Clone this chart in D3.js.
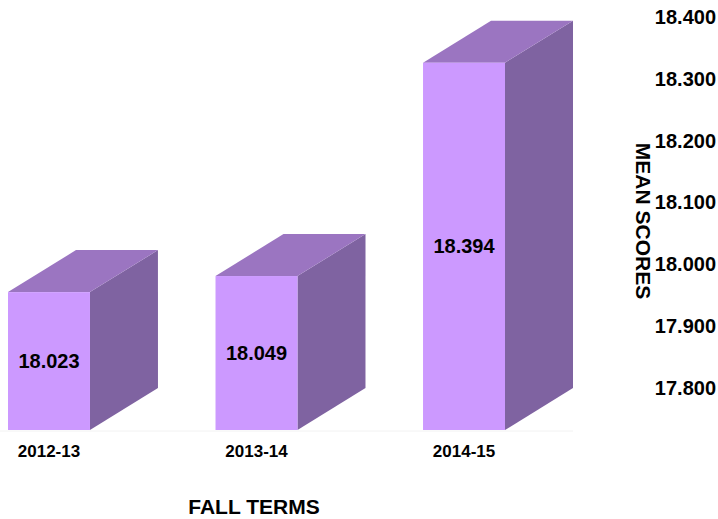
<!DOCTYPE html>
<html>
<head>
<meta charset="utf-8">
<script src="https://cdn.jsdelivr.net/npm/d3@7"></script>
<style>
  body { margin: 0; background: #fff; }
  svg { display: block; font-family: "Liberation Sans", Arial, sans-serif; font-weight: bold; }
</style>
</head>
<body>
<svg class="chart"></svg>
<script>
// chart values
var terms = ['2012-13', '2013-14', '2014-15'];
var scores = [18.023, 18.049, 18.394];
var yTicks = [17.8, 17.9, 18.0, 18.1, 18.2, 18.3, 18.4];

var width = 718, height = 519;
var depthX = 68, depthY = 42;   // 3d offset of the back plane

var chart = d3.select('.chart')
  .attr('width', width)
  .attr('height', height);

var x = d3.scaleBand().domain(terms).range([8, 505]).paddingInner(0.605).paddingOuter(0);
// y on the back plane (where the axis sits)
var y = d3.scaleLinear().domain([17.8, 18.4]).range([388, 17]);
var base = 17.8;

function front(v) { return y(v) + depthY; }

// faint floor line
chart.append('line')
  .attr('x1', 0).attr('x2', x(terms[2]) + x.bandwidth() + depthX)
  .attr('y1', front(base) + 1).attr('y2', front(base) + 1)
  .attr('stroke', '#f2f2f2');

var bar = chart.selectAll('.bar')
  .data(terms.map(function(t, i) { return {term: t, score: scores[i]}; }))
  .enter().append('g')
  .attr('class', 'bar');

// side face
bar.append('polygon')
  .attr('fill', '#7f63a1')
  .attr('points', function(d) {
    var x1 = x(d.term) + x.bandwidth();
    return [[x1, front(d.score)], [x1 + depthX, y(d.score)],
            [x1 + depthX, y(base)], [x1, front(base)]].join(' ');
  });

// top face
bar.append('polygon')
  .attr('fill', '#9b75c1')
  .attr('points', function(d) {
    var x0 = x(d.term), x1 = x0 + x.bandwidth();
    return [[x0, front(d.score)], [x0 + depthX, y(d.score)],
            [x1 + depthX, y(d.score)], [x1, front(d.score)]].join(' ');
  });

// front face
bar.append('rect')
  .attr('fill', '#cc99ff')
  .attr('x', function(d) { return x(d.term); })
  .attr('y', function(d) { return front(d.score); })
  .attr('width', x.bandwidth())
  .attr('height', function(d) { return front(base) - front(d.score); });

// value labels
bar.append('text')
  .attr('x', function(d) { return x(d.term) + x.bandwidth() / 2; })
  .attr('y', function(d) { return (front(d.score) + front(base)) / 2; })
  .attr('dy', '0.35em')
  .attr('text-anchor', 'middle')
  .style('font-size', '20px')
  .attr('fill', '#000')
  .text(function(d) { return d3.format('.3f')(d.score); });

// x axis labels
chart.append('g')
  .attr('transform', 'translate(0,' + (front(base) + 27) + ')')
  .call(d3.axisBottom(x).tickSize(0).tickPadding(0))
  .call(function(g) {
    g.select('.domain').remove();
    g.selectAll('text')
      .attr('dy', null)
      .style('font-size', '17px')
      .style('font-family', '"Liberation Sans", Arial, sans-serif')
      .style('font-weight', 'bold')
      .attr('fill', '#000');
  });

// y axis labels on the right
chart.append('g')
  .attr('transform', 'translate(716,0)')
  .call(d3.axisLeft(y).tickValues(yTicks).tickSize(0).tickPadding(0).tickFormat(d3.format('.3f')))
  .call(function(g) {
    g.select('.domain').remove();
    g.selectAll('text')
      .style('font-size', '20px')
      .style('font-family', '"Liberation Sans", Arial, sans-serif')
      .style('font-weight', 'bold')
      .attr('fill', '#000');
  });

// axis titles
chart.append('text')
  .attr('x', 254).attr('y', 514)
  .attr('text-anchor', 'middle')
  .style('font-size', '21px')
  .text('FALL TERMS');

chart.append('text')
  .attr('transform', 'translate(643,221) rotate(90)')
  .attr('text-anchor', 'middle')
  .attr('dy', '0.35em')
  .style('font-size', '21px')
  .text('MEAN SCORES');
</script>
</body>
</html>
